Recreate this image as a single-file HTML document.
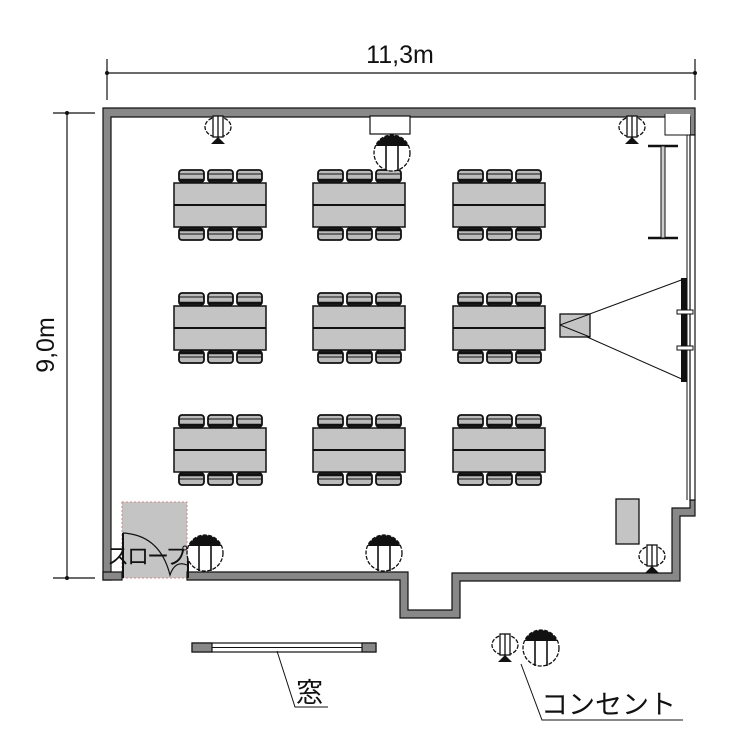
<!DOCTYPE html>
<html><head><meta charset="utf-8"><style>
html,body{margin:0;padding:0;background:#fff;}
svg{display:block;}
text{font-family:"Liberation Sans","Noto Sans CJK JP",sans-serif;fill:#111;}
</style></head><body>
<svg width="750" height="750" viewBox="0 0 750 750" xmlns="http://www.w3.org/2000/svg">
<defs>
  <g id="tbl">
    <g fill="#bbb" stroke="#111" stroke-width="1.8">
      <rect x="5" y="-13" width="25" height="12" rx="3"/>
      <rect x="34" y="-13" width="25" height="12" rx="3"/>
      <rect x="63" y="-13" width="25" height="12" rx="3"/>
      <rect x="5" y="45" width="25" height="12" rx="3"/>
      <rect x="34" y="45" width="25" height="12" rx="3"/>
      <rect x="63" y="45" width="25" height="12" rx="3"/>
    </g>
    <g stroke="#111" stroke-width="2.5" fill="none">
      <path d="M5 -3h25M34 -3h25M63 -3h25M5 47h25M34 47h25M63 47h25"/>
      <path d="M5 -9h25M34 -9h25M63 -9h25M5 51h25M34 51h25M63 51h25" stroke-width="1"/>
    </g>
    <rect x="0" y="0" width="92" height="44" fill="#c4c4c4" stroke="#111" stroke-width="1.5"/>
    <line x1="0" y1="22" x2="92" y2="22" stroke="#111" stroke-width="2"/>
  </g>
  <g id="outS">
    <ellipse cx="0" cy="0" rx="13" ry="10" fill="#fff" stroke="#111" stroke-width="1.3" stroke-dasharray="4 1.5"/>
    <rect x="-5" y="-11" width="10" height="21" fill="#fff" stroke="#111" stroke-width="1.3"/>
    <line x1="0" y1="-11" x2="0" y2="10" stroke="#111" stroke-width="1.3"/>
    <path d="M-7 17 L0 10 L7 17 Z" fill="#111"/>
  </g>
  <g id="outB">
    <circle cx="0" cy="0" r="18" fill="#fff" stroke="#111" stroke-width="1.3" stroke-dasharray="4 1.5"/>
    <path d="M-16.5 -7 A18 18 0 0 1 16.5 -7 Z" fill="#111"/>
    <line x1="-6" y1="-12" x2="-6" y2="18" stroke="#111" stroke-width="1.6"/>
    <line x1="6" y1="-12" x2="6" y2="18" stroke="#111" stroke-width="1.6"/>
  </g>
</defs>

<line x1="107" y1="73" x2="695" y2="73" stroke="#111" stroke-width="1.2"/>
<line x1="107" y1="59" x2="107" y2="100" stroke="#111" stroke-width="1.2"/>
<line x1="695" y1="59" x2="695" y2="100" stroke="#111" stroke-width="1.2"/>
<circle cx="107" cy="73" r="2" fill="#111"/><circle cx="695" cy="73" r="2" fill="#111"/>
<text x="400" y="63" font-size="25" text-anchor="middle">11,3m</text>

<line x1="67" y1="113" x2="67" y2="578" stroke="#111" stroke-width="1.2"/>
<line x1="53" y1="113" x2="95" y2="113" stroke="#111" stroke-width="1.2"/>
<line x1="53" y1="578" x2="95" y2="578" stroke="#111" stroke-width="1.2"/>
<circle cx="67" cy="113" r="2" fill="#111"/><circle cx="67" cy="578" r="2" fill="#111"/>
<text x="0" y="0" font-size="25" text-anchor="middle" transform="translate(54 345) rotate(-90)">9,0m</text>

<rect x="122" y="502" width="65" height="76" fill="#c4c4c4" stroke="#c88" stroke-width="1" stroke-dasharray="2 2"/>

<g fill="#888" stroke="#111" stroke-width="1.2">
  <path d="M103 108 H695 V135 H690 V117 H111 V580 H103 Z"/>
  <rect x="103" y="572" width="19" height="8"/>
  <path d="M187 572 H408 V610 H452 V573 H672 V508 H690 V500 H695 V516 H680 V581 H460 V618 H400 V580 H187 Z"/>
</g>
<rect x="370" y="116" width="40" height="18" fill="#fff" stroke="#111" stroke-width="1.2"/>
<rect x="665" y="114" width="25" height="21" fill="#fff" stroke="none"/>
<path d="M665 114 V135 H690" fill="none" stroke="#111" stroke-width="1"/>
<rect x="690" y="135" width="5" height="365" fill="#fff" stroke="#111" stroke-width="1.2"/>
<line x1="687" y1="135" x2="687" y2="500" stroke="#111" stroke-width="1"/>

<line x1="123" y1="533" x2="123" y2="578" stroke="#111" stroke-width="2"/>
<path d="M123 533 Q160 535 170 575 Q175 560 187 565" fill="none" stroke="#111" stroke-width="1.2"/>
<line x1="188" y1="555" x2="188" y2="578" stroke="#111" stroke-width="2"/>
<text x="107" y="564" font-size="22" letter-spacing="-2">スロープ</text>

<use href="#tbl" x="174" y="183"/>
<use href="#tbl" x="313" y="183"/>
<use href="#tbl" x="453" y="183"/>
<use href="#tbl" x="174" y="306"/>
<use href="#tbl" x="313" y="306"/>
<use href="#tbl" x="453" y="306"/>
<use href="#tbl" x="174" y="428"/>
<use href="#tbl" x="313" y="428"/>
<use href="#tbl" x="453" y="428"/>

<use href="#outS" x="218" y="127"/>
<use href="#outS" x="632" y="127"/>
<use href="#outS" x="652" y="556"/>
<use href="#outB" x="392" y="153"/>
<use href="#outB" x="205" y="553"/>
<use href="#outB" x="384" y="553"/>

<g stroke="#111" stroke-width="2.5"><line x1="648" y1="146" x2="678" y2="146"/><line x1="648" y1="238" x2="678" y2="238"/></g>
<rect x="661" y="146" width="4" height="92" fill="#ccc" stroke="#111" stroke-width="1"/>

<path d="M560 325 L684 279 M560 325 L684 380" stroke="#111" stroke-width="1" fill="none"/>
<rect x="560" y="314" width="30" height="23" fill="#c4c4c4" stroke="#111" stroke-width="1.3"/>
<path d="M560 325 L590 314 M560 325 L590 337" stroke="#111" stroke-width="1"/>
<rect x="681" y="278" width="6" height="104" fill="#111"/>
<rect x="677" y="310" width="16" height="4" fill="#fff" stroke="#111" stroke-width="1"/>
<rect x="677" y="346" width="16" height="4" fill="#fff" stroke="#111" stroke-width="1"/>

<rect x="616" y="499" width="23" height="45" fill="#c4c4c4" stroke="#111" stroke-width="1.3"/>

<rect x="192" y="643" width="184" height="9" fill="#fff" stroke="#111" stroke-width="1.2"/>
<rect x="192" y="643" width="20" height="9" fill="#888" stroke="#111" stroke-width="1.2"/>
<rect x="362" y="643" width="14" height="9" fill="#888" stroke="#111" stroke-width="1.2"/>
<line x1="212" y1="647.5" x2="362" y2="647.5" stroke="#111" stroke-width="1"/>
<path d="M277 651 L295 707 H328" fill="none" stroke="#111" stroke-width="1"/>
<text x="296" y="702" font-size="27">窓</text>

<use href="#outS" x="505" y="645"/>
<use href="#outB" x="541" y="648"/>
<path d="M521 664 L542 720 H683" fill="none" stroke="#111" stroke-width="1"/>
<text x="541" y="714" font-size="27">コンセント</text>
</svg>
</body></html>
